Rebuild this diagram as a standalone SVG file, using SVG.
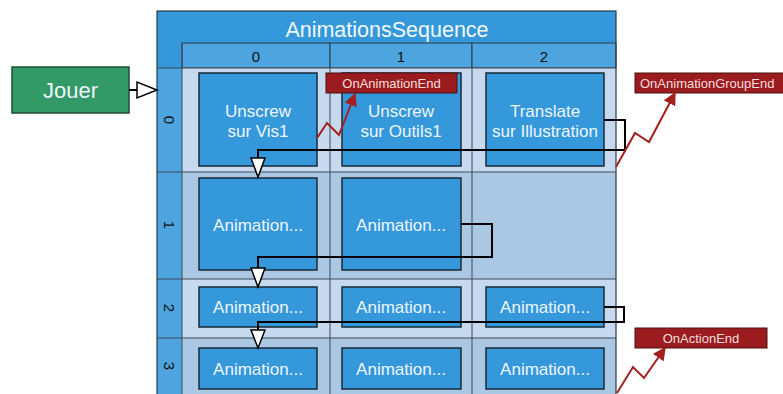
<svg xmlns="http://www.w3.org/2000/svg" width="783" height="394" viewBox="0 0 783 394">
  <defs>
    <marker id="redHead" viewBox="0 0 10 10" refX="9" refY="5" markerWidth="6.5" markerHeight="6.5" orient="auto" markerUnits="strokeWidth">
      <path d="M0,0 L10,5 L0,10 z" fill="#a3201f"/>
    </marker>
    <style>
      text { font-family: "Liberation Sans", "DejaVu Sans", sans-serif; }
      .band { fill: #3498db; }
      .hdr { fill: #4ea4de; stroke: #2a3a4a; stroke-width: 1; }
      .rowA { fill: #c6d9ee; }
      .rowB { fill: #aac8e3; }
      .sep { stroke: #3a4a5a; stroke-width: 1; fill: none; }
      .node rect { fill: #3498db; stroke: #1a2a3a; stroke-width: 1.5; }
      .node text { fill: #eef5fc; font-size: 17px; text-anchor: middle; }
      .evt rect { fill: #9b1c1f; stroke: #4a1010; stroke-width: 1; }
      .evt text { fill: #f3dede; font-size: 13px; }
      .flow { fill: none; stroke: #000; stroke-width: 2; }
      .head { fill: #fff; stroke: #000; stroke-width: 1.5; }
      .zig { fill: none; stroke: #a3201f; stroke-width: 2; }
      .lbl { fill: #111; font-size: 15px; text-anchor: middle; }
    </style>
  </defs>

  <rect width="783" height="394" fill="#fff"/>

  <!-- container: title band, column header, row bands -->
  <g id="AnimationsSequence">
    <rect class="band" x="157" y="11" width="459" height="57"/>
    <text x="387" y="37" fill="#f2f8fd" font-size="21.5" text-anchor="middle">AnimationsSequence</text>
    <rect class="hdr" x="182" y="43" width="148" height="25"/>
    <rect class="hdr" x="330" y="43" width="142" height="25"/>
    <rect class="hdr" x="472" y="43" width="144" height="25"/>
    <text class="lbl" x="256" y="62">0</text>
    <text class="lbl" x="401" y="62">1</text>
    <text class="lbl" x="544" y="62">2</text>

    <rect class="rowA" x="182" y="68" width="434" height="104"/>
    <rect class="rowB" x="182" y="172" width="434" height="107"/>
    <rect class="rowA" x="182" y="279" width="434" height="59"/>
    <rect class="rowB" x="182" y="338" width="434" height="56"/>

    <rect x="157" y="68" width="25" height="326" fill="#4ea4de"/>
    <text class="lbl" transform="translate(169,120) rotate(90)" y="5">0</text>
    <text class="lbl" transform="translate(169,225) rotate(90)" y="5">1</text>
    <text class="lbl" transform="translate(169,308) rotate(90)" y="5">2</text>
    <text class="lbl" transform="translate(169,366) rotate(90)" y="5">3</text>

    <path class="sep" d="M157,68 H616 M157,172 H616 M157,279 H616 M157,338 H616 M182,43 V394 M330,68 V394 M472,68 V394"/>
    <rect x="157" y="11" width="459" height="390" fill="none" stroke="#2a3a4a" stroke-width="1.2"/>
  </g>

  <g id="Jouer" class="node">
    <rect x="12" y="67" width="117" height="46" style="fill:#339966;stroke:#1d4d33"/>
    <text x="70.5" y="98" style="font-size:22px">Jouer</text>
  </g>

  <g id="n00" class="node">
    <rect x="199" y="73" width="118" height="93"/>
    <text x="258" y="117">Unscrew</text>
    <text x="258" y="137">sur Vis1</text>
  </g>
  <g id="n01" class="node">
    <rect x="342" y="73" width="119" height="93"/>
    <text x="401" y="117">Unscrew</text>
    <text x="401" y="137">sur Outils1</text>
  </g>
  <g id="n02" class="node">
    <rect x="486" y="73" width="118" height="93"/>
    <text x="545" y="117">Translate</text>
    <text x="545" y="137">sur Illustration</text>
  </g>
  <g id="n10" class="node">
    <rect x="199" y="178" width="118" height="92"/>
    <text x="258" y="231">Animation...</text>
  </g>
  <g id="n11" class="node">
    <rect x="342" y="178" width="119" height="92"/>
    <text x="401" y="231">Animation...</text>
  </g>
  <g id="n20" class="node">
    <rect x="199" y="287" width="118" height="40"/>
    <text x="258" y="313">Animation...</text>
  </g>
  <g id="n21" class="node">
    <rect x="342" y="287" width="119" height="40"/>
    <text x="401" y="313">Animation...</text>
  </g>
  <g id="n22" class="node">
    <rect x="486" y="287" width="118" height="40"/>
    <text x="545" y="313">Animation...</text>
  </g>
  <g id="n30" class="node">
    <rect x="199" y="348" width="118" height="41"/>
    <text x="258" y="375">Animation...</text>
  </g>
  <g id="n31" class="node">
    <rect x="342" y="348" width="119" height="41"/>
    <text x="401" y="375">Animation...</text>
  </g>
  <g id="n32" class="node">
    <rect x="486" y="348" width="118" height="41"/>
    <text x="545" y="375">Animation...</text>
  </g>

  <!-- event tags -->
  <g id="OnAnimationEnd" class="evt">
    <rect x="326" y="73" width="131" height="20"/>
    <text x="391.5" y="88" text-anchor="middle">OnAnimationEnd</text>
  </g>
  <g id="OnAnimationGroupEnd" class="evt">
    <rect x="635" y="73" width="160" height="20"/>
    <text x="640" y="88">OnAnimationGroupEnd</text>
  </g>
  <g id="OnActionEnd" class="evt">
    <rect x="635" y="328" width="132" height="20"/>
    <text x="701" y="343" text-anchor="middle">OnActionEnd</text>
  </g>

  <g id="connectors">
    <!-- start -->
    <path class="flow" d="M129,90 H138" stroke-width="3"/>
    <polygon class="head" points="137,82 137,98 157,90"/>
    <!-- row 0 to row 1 -->
    <path class="flow" d="M604,120 H625 V150 H258 V158"/>
    <polygon class="head" points="251,158 265,158 258,177"/>
    <!-- row 1 to row 2 -->
    <path class="flow" d="M461,224 H492 V257 H258 V268"/>
    <polygon class="head" points="251,268 265,268 258,287"/>
    <!-- row 2 to row 3 -->
    <path class="flow" d="M604,307 H624 V322 H258 V330"/>
    <polygon class="head" points="251,330 265,330 258,348"/>
    <!-- event triggers -->
    <path class="zig" d="M317,138 L327,123 L339,135 L355,94" marker-end="url(#redHead)"/>
    <path class="zig" d="M616,167 L635,133 L649,142 L675,93" marker-end="url(#redHead)"/>
    <path class="zig" d="M617,393 L633,367 L644,378 L665,348" marker-end="url(#redHead)"/>
  </g>
</svg>
